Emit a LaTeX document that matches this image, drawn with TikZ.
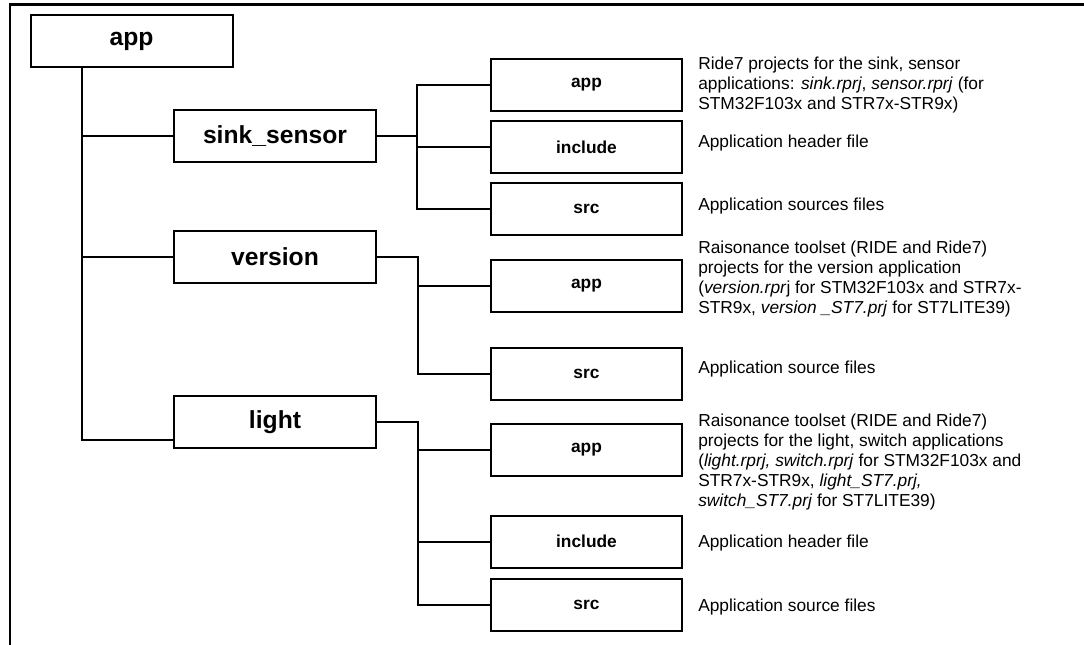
\documentclass[tikz,border=0pt]{standalone}
\usepackage{fontspec}
\setmainfont{Liberation Sans}
\begin{document}
\begin{tikzpicture}[x=0.75pt,y=-0.75pt,
  bigbox/.style={draw,line width=1.5pt,minimum width=151.5pt,minimum height=39pt,inner sep=0pt,font=\fontsize{18.5}{20}\selectfont\bfseries},
  smallbox/.style={draw,line width=1.5pt,minimum width=143.25pt,minimum height=39pt,inner sep=0pt,font=\fontsize{13}{15}\selectfont\bfseries},
  desc/.style={anchor=west,inner sep=0pt,align=left,font=\fontsize{13}{15}\selectfont},
  conn/.style={line width=1.5pt}]
\useasboundingbox (0,0) rectangle (1084,645);
% frame
\draw[line width=2pt] (10,645) -- (10,4.5) -- (1084,4.5);
% level 0 and 1
\node[bigbox] (root) at (131.5,41) {app};
\node[bigbox] (sink) at (275,136) {sink\_sensor};
\node[bigbox] (version) at (275,257) {version};
\node[bigbox] (light) at (275,422) {light};
\coordinate (tr) at (82,66);
\draw[conn] (root.south -| tr) -- (tr |- 0,440) -- ([yshift=-13.5pt]light.west);
\draw[conn] (tr |- sink.west) -- (sink.west);
\draw[conn] (tr |- version.west) -- (version.west);
% sink_sensor children
\node[smallbox] (sapp) at (586.5,85) {app};
\node[smallbox] (sinc) at (586.5,147) {include};
\node[smallbox] (ssrc) at (586.5,209) {src};
\coordinate (sb) at (417,0);
\draw[conn] (sink.east) -- (sb |- sink.east);
\draw[conn] (sapp.west) -- (sb |- sapp.west) -- (sb |- ssrc.west) -- (ssrc.west);
\draw[conn] (sinc.west) -- (sb |- sinc.west);
\node[desc] (sappd) at (698,85) {Ride7 projects for the sink, sensor\\applications: \textit{sink.rprj}, \textit{sensor.rprj} (for\\STM32F103x and STR7x-STR9x)};
\node[desc] (sincd) at (698,143) {Application header file};
\node[desc] (ssrcd) at (698,206) {Application sources files};
% version children
\node[smallbox] (vapp) at (586.5,285.5) {app};
\node[smallbox] (vsrc) at (586.5,374) {src};
\coordinate (vb) at (418,0);
\draw[conn] (version.east) -- (vb |- version.east) -- (vb |- vsrc.west) -- (vsrc.west);
\draw[conn] (vb |- vapp.west) -- (vapp.west);
\node[desc] (vappd) at (698,279.5) {Raisonance toolset (RIDE and Ride7)\\projects for the version application\\(\textit{version.rpr}j for STM32F103x and STR7x-\\STR9x, \textit{version \_ST7.prj} for ST7LITE39)};
\node[desc] (vsrcd) at (698,369) {Application source files};
% light children
\node[smallbox] (lapp) at (586.5,449.5) {app};
\node[smallbox] (linc) at (586.5,541.5) {include};
\node[smallbox] (lsrc) at (586.5,605) {src};
\coordinate (lb) at (418,0);
\draw[conn] (light.east) -- (lb |- light.east) -- (lb |- lsrc.west) -- (lsrc.west);
\draw[conn] (lb |- lapp.west) -- (lapp.west);
\draw[conn] (lb |- linc.west) -- (linc.west);
\node[desc] (lappd) at (698,462.5) {Raisonance toolset (RIDE and Ride7)\\projects for the light, switch applications\\(\textit{light.rprj, switch.rprj} for STM32F103x and\\STR7x-STR9x, \textit{light\_ST7.prj,}\\\textit{switch\_ST7.prj} for ST7LITE39)};
\node[desc] (lincd) at (698,543) {Application header file};
\node[desc] (lsrcd) at (698,607) {Application source files};
\end{tikzpicture}
\end{document}
